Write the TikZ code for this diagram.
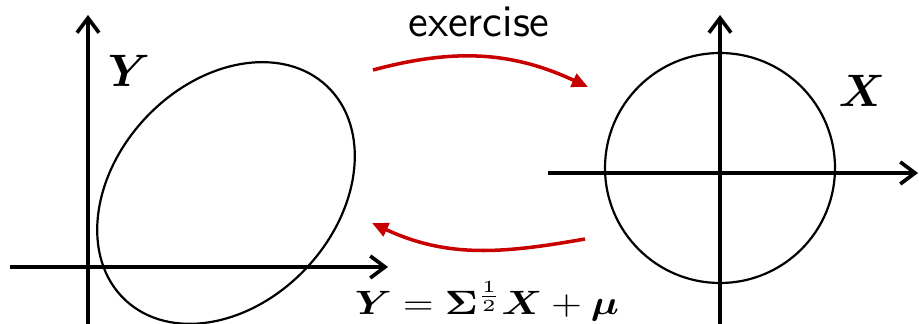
\RequirePackage{fix-cm}
\documentclass[tikz,border=0pt]{standalone}
\usepackage{amsmath}
\usepackage{bm}
\usetikzlibrary{arrows.meta, positioning, calc}

\definecolor{merah}{RGB}{200,0,0}

\begin{document}
\begin{tikzpicture}[
    x=0.341pt, y=0.341pt,
    sumbu/.style={-{Straight Barb[length=5pt, width=7.5pt]}, line width=1.25pt},
    kurva/.style={line width=0.75pt},
    aliran/.style={-{Triangle[length=5.5pt, width=4.8pt]}, line width=1.2pt, draw=merah},
    huruf/.style={font=\fontsize{15.5}{18}\selectfont, inner sep=0pt}
  ]
    \useasboundingbox (0,0) rectangle (919,324);
    % kiri: elips Y
    \coordinate (kiri0) at (10,57);
    \coordinate (kiri1) at (388,57);
    \coordinate (bawah0) at (88,0);
    \coordinate (bawah1) at (88,309);
    \draw[sumbu] (kiri0) -- (kiri1);
    \draw[sumbu] (bawah0) -- (bawah1);
    \draw[kurva, shift={(226,131)}, rotate=46.6] (0,0) ellipse [x radius=147, y radius=110];
    \node[huruf] (ly) at (129,253) {$\bm{Y}$};
    % kanan: lingkaran X
    \coordinate (kanan0) at (548,151);
    \coordinate (kanan1) at (918,151);
    \coordinate (atas0) at (720,0);
    \coordinate (atas1) at (720,309);
    \draw[sumbu] (kanan0) -- (kanan1);
    \draw[sumbu] (atas0) -- (atas1);
    \draw[kurva] (720,156) circle [radius=115];
    \node[huruf] (lx) at (862,233) {$\bm{X}$};
    % panah di tengah
    \node[font=\sffamily\fontsize{15.4}{18}\selectfont, anchor=base] (latihan) at (479,287) {exercise};
    \node[font=\fontsize{11.5}{14}\selectfont, anchor=base] (rumus) at (487,9)
      {\scalebox{1.18}[1]{$\bm{Y} = \bm{\Sigma}^{\frac{1}{2}}\bm{X} + \bm{\mu}$}};
    \coordinate (a1) at (373,254);
    \coordinate (a2) at (588,237);
    \coordinate (b1) at (585,85);
    \coordinate (b2) at (372,101);
    \draw[aliran] (a1) to[out=15, in=155] (a2);
    \draw[aliran] (b1) to[out=190, in=-25] (b2);
\end{tikzpicture}
\end{document}
